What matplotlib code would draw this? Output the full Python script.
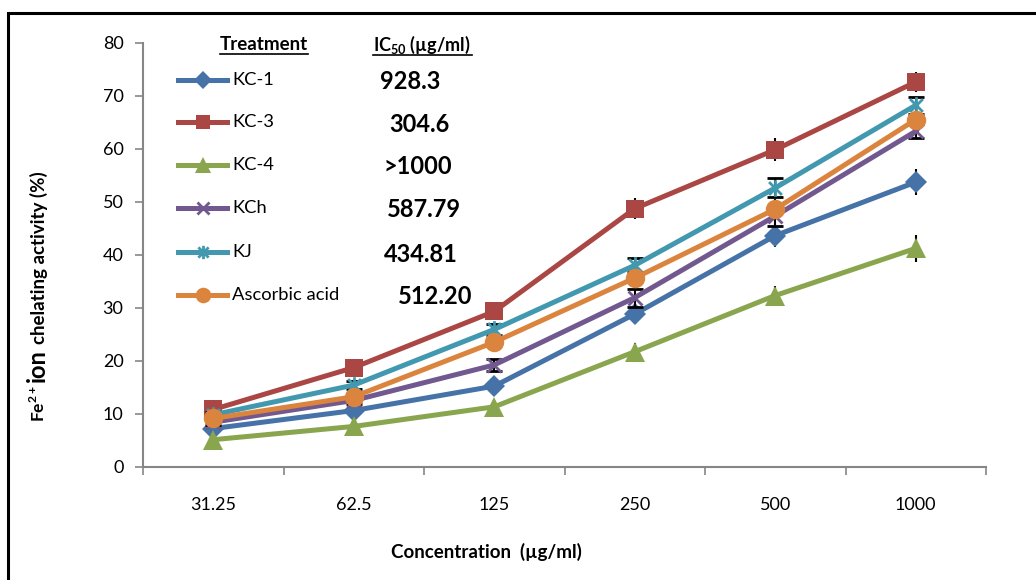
import matplotlib
matplotlib.use("Agg")
import matplotlib.pyplot as plt
from matplotlib.lines import Line2D
from matplotlib.patches import Rectangle
from matplotlib.path import Path
import numpy as np

plt.rcParams['font.family'] = ['Lato', 'DejaVu Sans']
plt.rcParams['mathtext.fontset'] = 'custom'
plt.rcParams['mathtext.rm'] = 'Lato'
plt.rcParams['mathtext.bf'] = 'Lato:bold'

# ---- data ----
concentrations = ["31.25", "62.5", "125", "250", "500", "1000"]
series_names = ["KC-1", "KC-3", "KC-4", "KCh", "KJ", "Ascorbic acid"]
kc1 = [7.2, 10.6, 15.2, 28.8, 43.6, 53.7]
kc3 = [10.8, 18.7, 29.3, 48.7, 59.8, 72.6]
kc4 = [5.1, 7.6, 11.3, 21.7, 32.3, 41.2]
kch = [8.4, 12.5, 19.2, 31.9, 47.3, 63.3]
kj = [9.8, 15.4, 25.9, 38.0, 52.6, 68.2]
ascorbic = [9.1, 13.2, 23.5, 35.6, 48.6, 65.5]
kc1_err = [0.6, 0.7, 0.9, 1.9, 2.1, 2.5]
kc3_err = [0.5, 0.7, 0.8, 2.0, 2.2, 1.9]
kc4_err = [0.5, 0.6, 0.8, 1.6, 1.8, 2.5]
kch_err = [0.5, 0.6, 1.2, 1.7, 1.9, 1.3]
kj_err = [0.6, 0.7, 1.0, 1.3, 1.8, 1.6]
ascorbic_err = [0.5, 0.6, 0.8, 1.2, 1.9, 1.3]
ic50_labels = ["928.3", "304.6", ">1000", "587.79", "434.81", "512.20"]
y_ticks = [0, 10, 20, 30, 40, 50, 60, 70, 80]

values = [kc1, kc3, kc4, kch, kj, ascorbic]
errors = [kc1_err, kc3_err, kc4_err, kch_err, kj_err, ascorbic_err]
colors = ["#4572A7", "#AA4643", "#89A54E", "#71588F", "#4198AF", "#DB843D"]

# Excel-style asterisk: X plus vertical line
star_path = Path([(-1, -1), (1, 1), (-1, 1), (1, -1), (0, -1.3), (0, 1.3)],
                 [Path.MOVETO, Path.LINETO, Path.MOVETO, Path.LINETO, Path.MOVETO, Path.LINETO])
markers = ["D", "s", "^", "x", star_path, "o"]
line_markers = [False, False, False, True, True, False]
msizes = [11, 13, 14, 10, 12, 14]

W, H = 1036, 580
fig = plt.figure(figsize=(W / 100, H / 100), dpi=100)

def fx(px):
    return px / W

def fy(py):
    return 1 - py / H

ax_l, ax_r, ax_t, ax_b = 143, 986, 42.7, 466.7
ax = fig.add_axes([fx(ax_l), fy(ax_b), fx(ax_r - ax_l), (ax_b - ax_t) / H])

def mk_kw(i):
    if line_markers[i]:
        return dict(markeredgewidth=2.0, markeredgecolor=colors[i], markerfacecolor='none')
    return dict(markeredgewidth=0)

x = np.arange(len(concentrations))
for i, (vals, errs) in enumerate(zip(values, errors)):
    ax.errorbar(x, vals, yerr=errs, color=colors[i], lw=3.6, marker=markers[i],
                markersize=msizes[i], ecolor="black", elinewidth=1.5,
                capsize=6, capthick=2, zorder=3 + i, **mk_kw(i))

ax.set_xlim(-0.5, len(concentrations) - 0.5)
ax.set_ylim(0, 80)
ax.set_yticks(y_ticks)
ax.set_yticklabels([str(t) for t in y_ticks], fontsize=13)
ax.set_xticks(x)
ax.set_xticklabels(concentrations, fontsize=13)
ax.set_xticks(np.arange(-0.5, len(concentrations), 1.0), minor=True)
ax.tick_params(axis='x', which='major', length=0, pad=22)
ax.tick_params(axis='x', which='minor', length=6, width=1.2, color="#868686", direction='out')
ax.tick_params(axis='y', length=6, width=1.2, color="#868686", direction='out', pad=8)
for s in ("top", "right"):
    ax.spines[s].set_visible(False)
for s in ("left", "bottom"):
    ax.spines[s].set_color("#868686")
    ax.spines[s].set_linewidth(1.5)

# x label
fig.text(fx(486), fy(552), "Concentration  (µg/ml)", ha='center', va='center',
         fontsize=13.5, fontweight='bold')

# y label in parts (rotated, common baseline, chained bottom-to-top)
renderer = fig.canvas.get_renderer()
base_x = fx(45)
parts = [(r"Fe$^{\mathbf{2+}}$", 12.5, 3), ("ion", 17, 5), ("chelating activity (%)", 13.5, 0)]
cur_y = 422.0
for txt, fs, gap in parts:
    t = fig.text(base_x, fy(cur_y), txt, rotation=90, rotation_mode='anchor',
                 ha='left', va='baseline', fontsize=fs, fontweight='bold')
    bb = t.get_window_extent(renderer=renderer)
    cur_y -= bb.height + gap

# legend (manual)
fig.text(fx(264), fy(45), "Treatment", ha='center', va='center', fontsize=13.5, fontweight='bold')
fig.add_artist(Line2D([fx(220), fx(308)], [fy(54), fy(54)], color='black', lw=1.2))
fig.text(fx(373), fy(45), r"IC$_{\mathbf{50}}$ (µg/ml)", ha='left', va='center',
         fontsize=13, fontweight='bold')
fig.add_artist(Line2D([fx(373), fx(472)], [fy(55), fy(55)], color='black', lw=1.2))

row_y = [80, 122, 165, 208, 252, 295]
ic_x = [380, 389, 384, 387, 384, 398]
for i, name in enumerate(series_names):
    yy = fy(row_y[i])
    fig.add_artist(Line2D([fx(178), fx(227)], [yy, yy], color=colors[i], lw=3.6))
    fig.add_artist(Line2D([fx(202.5)], [yy], color=colors[i], marker=markers[i],
                          markersize=msizes[i] * 0.8, linestyle='none', **mk_kw(i)))
    fig.text(fx(232), yy, name, ha='left', va='center', fontsize=13.2)
    fig.text(fx(ic_x[i]), fy(row_y[i] + 2), ic50_labels[i], ha='left', va='center',
             fontsize=17, fontweight='bold')

# outer frame
fig.add_artist(Rectangle((fx(8), fy(600)), fx(1060 - 8), (600 - 13) / H,
                         fill=False, edgecolor='black', lw=2.2, clip_on=False))

fig.savefig("out.png", dpi=100)
